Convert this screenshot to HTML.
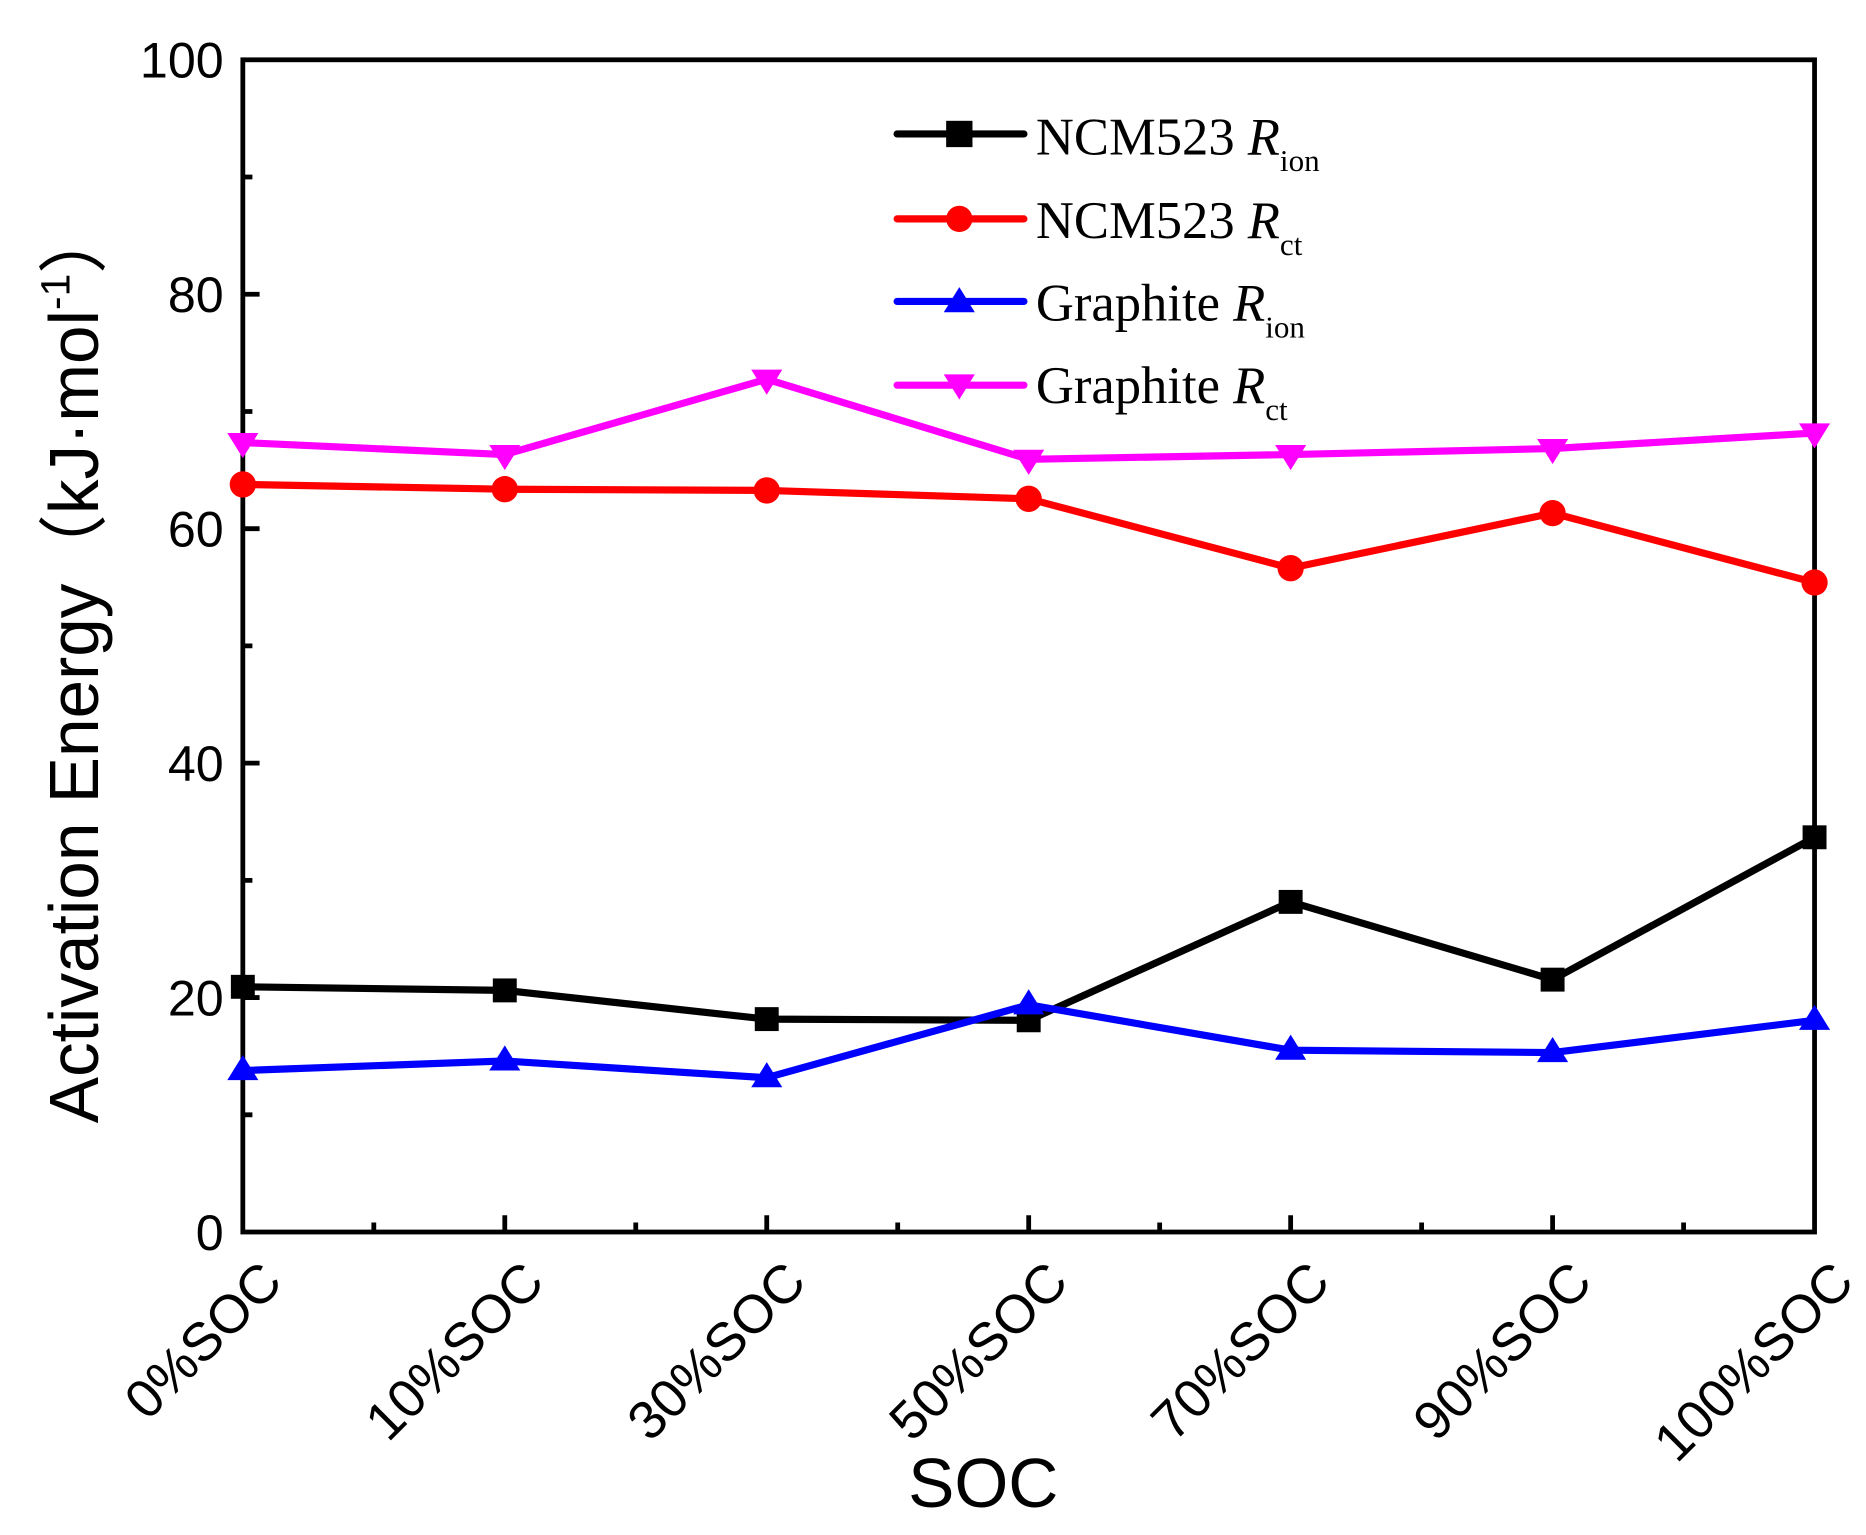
<!DOCTYPE html>
<html><head><meta charset="utf-8"><style>html,body{margin:0;padding:0;background:#fff}svg{display:block}</style></head>
<body>
<svg width="1866" height="1535" viewBox="0 0 1560 1283.3" xmlns="http://www.w3.org/2000/svg">
<rect width="1560" height="1283.3" fill="#fff"/>
<g stroke="#000" stroke-width="4" fill="none">
<rect x="203" y="50" width="1314" height="980"/>
<path d="M203 932h8M203 736h8M203 540h8M203 344h8M203 148h8
M203 834h14M203 638h14M203 442h14M203 246h14
M422 1030v-14M641 1030v-14M860 1030v-14M1079 1030v-14M1298 1030v-14
M312.5 1030v-8M531.5 1030v-8M750.5 1030v-8M969.5 1030v-8M1188.5 1030v-8M1407.5 1030v-8"/>
</g>
<g font-family="Liberation Sans, Arial, sans-serif" font-size="42" text-anchor="end" fill="#000">
<text x="187" y="1045">0</text><text x="187" y="849">20</text><text x="187" y="653">40</text>
<text x="187" y="457">60</text><text x="187" y="261">80</text><text x="187" y="65">100</text>
</g>
<g font-family="Liberation Sans, Arial, sans-serif" font-size="45" text-anchor="end" fill="#000">
<text transform="translate(238,1074) rotate(-45)">0%SOC</text>
<text transform="translate(457,1074) rotate(-45)">10%SOC</text>
<text transform="translate(676,1074) rotate(-45)">30%SOC</text>
<text transform="translate(895,1074) rotate(-45)">50%SOC</text>
<text transform="translate(1114,1074) rotate(-45)">70%SOC</text>
<text transform="translate(1333,1074) rotate(-45)">90%SOC</text>
<text transform="translate(1552,1074) rotate(-45)">100%SOC</text>
</g>
<text x="822" y="1260" font-family="Liberation Sans, Arial, sans-serif" font-size="58" text-anchor="middle">SOC</text>
<text transform="translate(82,555) rotate(-90)" font-family="Liberation Sans, 'Noto Sans CJK SC', sans-serif" font-size="58" text-anchor="middle">Activation Energy（kJ·mol<tspan font-size="34" dy="-24">-1</tspan><tspan dy="24">）</tspan></text>
<g stroke-width="6" fill="none" stroke-linejoin="round">
<polyline stroke="#000" points="203,825 422,828 641,852 860,853 1079,754 1298,819 1517,700"/>
<polyline stroke="#f00" points="203,405 422,409 641,410 860,417 1079,475 1298,429 1517,487"/>
<polyline stroke="#00f" points="203,895 422,887 641,901 860,840 1079,878 1298,880 1517,853"/>
<polyline stroke="#f0f" points="203,370 422,380 641,317 860,384 1079,380 1298,375 1517,362"/>
</g>
<g fill="#000">
<rect x="193" y="815" width="20" height="20"/><rect x="412" y="818" width="20" height="20"/><rect x="631" y="842" width="20" height="20"/><rect x="850" y="843" width="20" height="20"/><rect x="1069" y="744" width="20" height="20"/><rect x="1288" y="809" width="20" height="20"/><rect x="1507" y="690" width="20" height="20"/>
</g>
<g fill="#f00">
<circle cx="203" cy="405" r="11"/><circle cx="422" cy="409" r="11"/><circle cx="641" cy="410" r="11"/><circle cx="860" cy="417" r="11"/><circle cx="1079" cy="475" r="11"/><circle cx="1298" cy="429" r="11"/><circle cx="1517" cy="487" r="11"/>
</g>
<g fill="#00f">
<path d="M203 882l13 21h-26z"/><path d="M422 874l13 21h-26z"/><path d="M641 888l13 21h-26z"/><path d="M860 827l13 21h-26z"/><path d="M1079 865l13 21h-26z"/><path d="M1298 867l13 21h-26z"/><path d="M1517 840l13 21h-26z"/>
</g>
<g fill="#f0f">
<path d="M203 383l13-21h-26z"/><path d="M422 393l13-21h-26z"/><path d="M641 330l13-21h-26z"/><path d="M860 397l13-21h-26z"/><path d="M1079 393l13-21h-26z"/><path d="M1298 388l13-21h-26z"/><path d="M1517 375l13-21h-26z"/>
</g>
<g stroke-width="6" stroke-linecap="round">
<line x1="750" y1="112" x2="856" y2="112" stroke="#000"/>
<line x1="750" y1="183" x2="856" y2="183" stroke="#f00"/>
<line x1="750" y1="252" x2="856" y2="252" stroke="#00f"/>
<line x1="750" y1="322" x2="856" y2="322" stroke="#f0f"/>
</g>
<rect x="791" y="101" width="22" height="22" fill="#000"/>
<circle cx="802" cy="183" r="11" fill="#f00"/>
<path d="M802 240l13 21h-26z" fill="#00f"/>
<path d="M802 334l13-21h-26z" fill="#f0f"/>
<g font-family="Liberation Serif, 'Times New Roman', serif" font-size="44" fill="#000">
<text x="866" y="129">NCM523 <tspan font-style="italic">R</tspan><tspan font-size="26" dy="14">ion</tspan></text>
<text x="866" y="199">NCM523 <tspan font-style="italic">R</tspan><tspan font-size="26" dy="14">ct</tspan></text>
<text x="866" y="268">Graphite <tspan font-style="italic">R</tspan><tspan font-size="26" dy="14">ion</tspan></text>
<text x="866" y="337">Graphite <tspan font-style="italic">R</tspan><tspan font-size="26" dy="14">ct</tspan></text>
</g>
</svg>
</body></html>
